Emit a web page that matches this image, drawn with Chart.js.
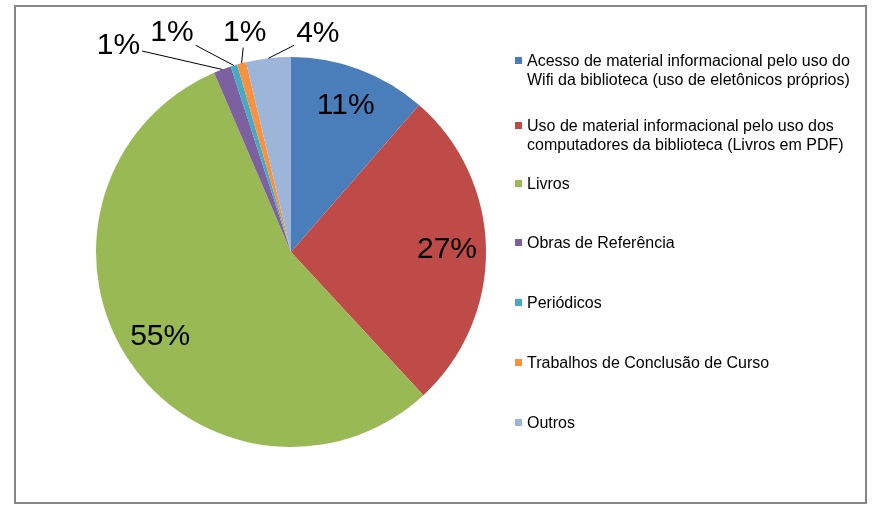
<!DOCTYPE html>
<html>
<head>
<meta charset="utf-8">
<script src="https://cdn.jsdelivr.net/npm/chart.js@4/dist/chart.umd.min.js"></script>
<style>
    body { margin: 0; background: #fff; }
    #wrap { position: relative; width: 881px; height: 513px; }
    #frame { position: absolute; left: 14px; top: 5px; width: 849px; height: 495px; border: 2px solid #868686; }
    #pieChart { position: absolute; left: 0; top: 0; }
    #legend { position: absolute; left: 0; top: 0; font-family: "Liberation Sans", Arial, sans-serif; font-size: 16px; line-height: 19px; color: #000; }
    #legend .item { position: absolute; left: 527px; white-space: nowrap; }
    #legend .box { position: absolute; left: -12px; top: 6px; width: 7px; height: 7px; }
</style>
</head>
<body>
<div id="wrap">
    <div id="frame"></div>
    <canvas id="pieChart" width="881" height="513"></canvas>
    <div id="legend"></div>
</div>
<script>
// categories, one per slice (lines of the legend text)
var categories = [
    ["Acesso de material informacional pelo uso do", "Wifi da biblioteca (uso de eletônicos próprios)"],
    ["Uso de material informacional pelo uso dos", "computadores da biblioteca (Livros em PDF)"],
    ["Livros"],
    ["Obras de Referência"],
    ["Periódicos"],
    ["Trabalhos de Conclusão de Curso"],
    ["Outros"]
];
// share of each slice, in percent
var shares = [11.4, 26.7, 55.4, 1.45, 0.55, 0.75, 3.7];
var sliceColors = ["#4A7EBB", "#BE4B48", "#98B954", "#7D60A0", "#46AAC5", "#F69240", "#9DB5D9"];

// where the labels of the small slices go: [angle from top in degrees, radius factor]
var outsideLabels = {3: [-39.9, 1.38], 4: [-28.5, 1.28], 5: [-11.9, 1.15], 6: [7, 1.13]};
// top of each legend entry, pixels
var legendTops = [51, 116, 174, 233, 293, 353, 413];

//-------------------
//- SLICE LABELS    -
//-------------------
var sliceLabels = {
    id: "sliceLabels",
    afterDatasetsDraw: function (chart) {
        var ctx = chart.ctx;
        var meta = chart.getDatasetMeta(0);
        var total = shares.reduce(function (a, b) { return a + b; }, 0);
        ctx.save();
        ctx.font = "30px 'Liberation Sans', Arial, sans-serif";
        ctx.fillStyle = "#000";
        ctx.strokeStyle = "#000";
        ctx.lineWidth = 1;
        ctx.textAlign = "center";
        ctx.textBaseline = "middle";
        meta.data.forEach(function (arc, i) {
            var text = Math.round(shares[i] / total * 100) + "%";
            var mid = (arc.startAngle + arc.endAngle) / 2;
            var r = arc.outerRadius;
            var pos = outsideLabels[i];
            if (!pos) {
                ctx.fillText(text, arc.x + Math.cos(mid) * r * 0.8, arc.y + Math.sin(mid) * r * 0.8);
                return;
            }
            var a = (pos[0] - 90) * Math.PI / 180;
            var lx = arc.x + Math.cos(a) * r * pos[1];
            var ly = arc.y + Math.sin(a) * r * pos[1];
            ctx.fillText(text, lx, ly);
            // leader line from the slice edge to the label box
            var px = arc.x + Math.cos(mid) * r;
            var py = arc.y + Math.sin(mid) * r;
            var hw = ctx.measureText(text).width / 2 + 2;
            var hh = 15;
            var dx = px - lx, dy = py - ly;
            var t = Math.min(Math.abs(dx) > 0 ? hw / Math.abs(dx) : 1e9, Math.abs(dy) > 0 ? hh / Math.abs(dy) : 1e9);
            ctx.beginPath();
            ctx.moveTo(lx + dx * t, ly + dy * t);
            ctx.lineTo(px, py);
            ctx.stroke();
        });
        ctx.restore();
    }
};

function drawLegend() {
    var el = document.getElementById("legend");
    categories.forEach(function (lines, i) {
        var item = document.createElement("div");
        item.className = "item";
        item.style.top = legendTops[i] + "px";
        item.innerHTML = '<span class="box" style="background:' + sliceColors[i] + '"></span>' + lines.join("<br>");
        el.appendChild(item);
    });
}

function drawChart() {
    var ctx = document.getElementById("pieChart").getContext("2d");
    new Chart(ctx, {
        type: "pie",
        data: {
            labels: categories.map(function (l) { return l.join(" "); }),
            datasets: [{
                data: shares,
                backgroundColor: sliceColors,
                borderWidth: 0,
                hoverOffset: 0
            }]
        },
        options: {
            responsive: false,
            animation: false,
            layout: { padding: { left: 96, top: 57, right: 395, bottom: 66 } },
            plugins: {
                legend: { display: false },
                tooltip: { enabled: false }
            }
        },
        plugins: [sliceLabels]
    });
}

drawLegend();
drawChart();
</script>
</body>
</html>
